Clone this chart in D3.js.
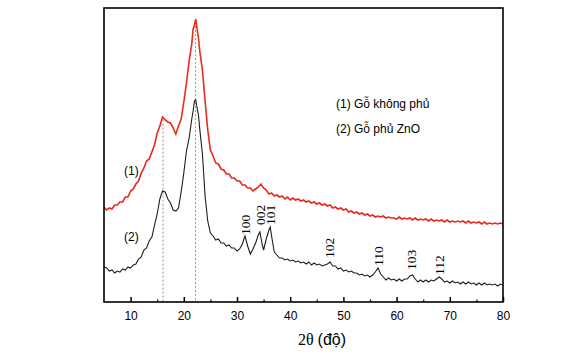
<!DOCTYPE html>
<html>
<head>
<meta charset="utf-8">
<title>XRD</title>
<style>
  body { margin: 0; background: #fff; }
  svg text { font-family: "Liberation Sans", Arial, sans-serif; }
</style>
</head>
<body>
<svg id="chart" width="585" height="354"></svg>
<script src="https://cdn.jsdelivr.net/npm/d3@7"></script>
<script>
// (1) uncoated wood: [2theta, intensity a.u.]
const uncoated = [
  [5.0,95],[5.5,92],[6.0,94],[6.5,93],[7.0,97],[7.5,97],[8.0,100],[8.5,100],[9.0,105],[9.5,105],
  [10.0,111],[10.5,113],[11.0,118],[11.5,121],[12.0,129],[12.5,134],[13.0,141],[13.5,143],[14.0,150],[14.5,157],
  [15.0,169],[15.5,176],[16.0,185],[16.5,182],[17.0,180],[17.5,179],[18.0,174],[18.5,168],[19.0,176],[19.5,183],
  [20.0,200],[20.5,219],[21.0,241],[21.5,258],[21.75,273],[22.0,277],[22.25,283],[22.5,273],[22.75,264],[23.0,251],
  [23.5,232],[24.0,201],[24.5,172],[25.0,152],[25.5,146],[26.0,139],[26.5,138],[27.0,133],[27.5,132],[28.0,128],
  [28.5,128],[29.0,124],[29.5,124],[30.0,121],[30.5,121],[31.0,117],[31.5,117],[32.0,114],[32.5,114],[33.0,111],
  [33.5,113],[34.0,115],[34.5,118],[35.0,114],[35.5,112],[36.0,108],[36.5,109],[37.0,106],[37.5,107],[38.0,105],
  [38.5,106],[39.0,103],[39.5,105],[40.0,102],[40.5,104],[41.0,102],[41.5,103],[42.0,101],[42.5,102],[43.0,100],
  [43.5,101],[44.0,99],[44.5,100],[45.0,98],[45.5,99],[46.0,97],[46.5,98],[47.0,96],[47.5,97],[48.0,94],
  [48.5,95],[49.0,93],[49.5,94],[50.0,92],[50.5,93],[51.0,90],[51.5,91],[52.0,89],[52.5,90],[53.0,88],
  [53.5,89],[54.0,87],[54.5,88],[55.0,86],[55.5,87],[56.0,85],[56.5,86],[57.0,85],[57.5,86],[58.0,84],
  [58.5,85],[59.0,84],[59.5,84],[60.0,83],[60.5,85],[61.0,83],[61.5,84],[62.0,83],[62.5,84],[63.0,82],
  [63.5,84],[64.0,82],[64.5,83],[65.0,82],[65.5,83],[66.0,81],[66.5,83],[67.0,81],[67.5,82],[68.0,81],
  [68.5,82],[69.0,80],[69.5,82],[70.0,80],[70.5,81],[71.0,80],[71.5,81],[72.0,80],[72.5,81],[73.0,79],
  [73.5,81],[74.0,79],[74.5,80],[75.0,79],[75.5,80],[76.0,78],[76.5,80],[77.0,78],[77.5,79],[78.0,78],
  [78.5,79],[79.0,78],[79.5,79],[80.0,78]
];

// (2) ZnO coated wood
const coated = [
  [5.0,35],[5.5,34],[6.0,31],[6.5,32],[7.0,29],[7.5,31],[8.0,30],[8.5,33],[9.0,32],[9.5,35],
  [10.0,34],[10.5,37],[11.0,38],[11.5,43],[12.0,45],[12.5,52],[13.0,54],[13.5,61],[14.0,65],[14.5,77],
  [15.0,88],[15.5,103],[16.0,111],[16.5,110],[17.0,103],[17.5,99],[18.0,92],[18.5,91],[19.0,94],[19.5,110],
  [20.0,129],[20.5,151],[21.0,164],[21.5,183],[21.75,191],[22.0,201],[22.25,202],[22.5,194],[22.75,187],[23.0,173],
  [23.5,148],[24.0,106],[24.5,81],[25.0,69],[25.5,66],[26.0,62],[26.5,63],[27.0,59],[27.5,59],[28.0,56],
  [28.5,57],[29.0,54],[29.5,54],[30.0,51],[30.5,53],[31.0,58],[31.5,66],[32.0,56],[32.5,48],[33.0,53],
  [33.5,59],[34.0,67],[34.3,70],[34.75,57],[35.0,52],[35.5,63],[36.0,72],[36.25,75],[36.5,66],[37.0,50],
  [37.5,47],[38.0,44],[38.5,44],[39.0,42],[39.5,43],[40.0,41],[40.5,42],[41.0,40],[41.5,41],[42.0,39],
  [42.5,40],[43.0,38],[43.5,40],[44.0,37],[44.5,39],[45.0,37],[45.5,38],[46.0,36],[46.5,37],[47.0,38],
  [47.5,40],[48.0,36],[48.5,36],[49.0,33],[49.5,34],[50.0,31],[50.5,32],[51.0,30],[51.5,31],[52.0,29],
  [52.5,29],[53.0,27],[53.5,28],[54.0,26],[54.5,27],[55.0,25],[55.5,27],[56.0,30],[56.5,34],[57.0,28],
  [57.5,25],[58.0,22],[58.5,24],[59.0,22],[59.5,23],[60.0,21],[60.5,23],[61.0,21],[61.5,23],[62.0,23],
  [62.5,26],[63.0,27],[63.5,23],[64.0,20],[64.5,22],[65.0,20],[65.5,22],[66.0,20],[66.5,22],[67.0,21],
  [67.5,23],[68.0,25],[68.5,23],[69.0,20],[69.5,21],[70.0,19],[70.5,21],[71.0,19],[71.5,20],[72.0,18],
  [72.5,20],[73.0,18],[73.5,20],[74.0,18],[74.5,19],[75.0,17],[75.5,19],[76.0,17],[76.5,19],[77.0,17],
  [77.5,18],[78.0,17],[78.5,18],[79.0,16],[79.5,18],[80.0,17]
];

// ZnO reflections: hkl, 2theta, intensity where the label starts
const hkl = ["100", "002", "101", "102", "110", "103", "112"];
const hklTheta = [31.5, 34.3, 36.2, 47.4, 56.5, 62.8, 68.0];
const hklLabelAt = [67, 77, 77, 44, 36, 32, 27];

// cellulose reference lines
const refTheta = [16.1, 22.2];

const xTicks = [10, 20, 30, 40, 50, 60, 70, 80];
const xMinorTicks = [15, 25, 35, 45, 55, 65, 75];
const legendLabels = ["(1) Gỗ không phủ", "(2) Gỗ phủ ZnO"];
const curveTags = ["(1)", "(2)"];

const margin = { left: 104, right: 82, top: 8, bottom: 52 };
const width = 585, height = 354;
const svg = d3.select("#chart");

const x = d3.scaleLinear().domain([5, 80]).range([margin.left, width - margin.right]);
const y = d3.scaleLinear().domain([0, 294]).range([height - margin.bottom, margin.top]);

svg.append("clipPath").attr("id", "plot")
  .append("rect")
  .attr("x", margin.left).attr("y", margin.top)
  .attr("width", x.range()[1] - x.range()[0])
  .attr("height", y.range()[0] - y.range()[1]);

// dashed guide lines, from the top of the uncoated curve down to the axis
const bis = d3.bisector((d) => d[0]).left;
function redAt(t) {
  const i = bis(uncoated, t);
  const a = uncoated[i - 1], b = uncoated[i];
  return a[1] + (b[1] - a[1]) * (t - a[0]) / (b[0] - a[0]);
}
svg.append("g")
  .selectAll("line")
  .data(refTheta)
  .join("line")
  .attr("x1", (d) => x(d)).attr("x2", (d) => x(d))
  .attr("y1", (d) => y(redAt(d)) + 2)
  .attr("y2", y(0))
  .attr("stroke", "#777")
  .attr("stroke-width", 0.8)
  .attr("stroke-dasharray", "2,2");

const line = d3.line().x((d) => x(d[0])).y((d) => y(d[1]));

const plot = svg.append("g").attr("clip-path", "url(#plot)");
plot.append("path")
  .datum(uncoated)
  .attr("fill", "none")
  .attr("stroke", "#e8291c")
  .attr("stroke-width", 1.6)
  .attr("d", line);
plot.append("path")
  .datum(coated)
  .attr("fill", "none")
  .attr("stroke", "#1c1c1c")
  .attr("stroke-width", 1.1)
  .attr("d", line);

// hkl labels, rotated, serif
svg.append("g")
  .selectAll("text")
  .data(hkl)
  .join("text")
  .attr("transform", (d, i) => `translate(${x(hklTheta[i])},${y(hklLabelAt[i])}) rotate(-90)`)
  .attr("dy", "0.35em")
  .style("font-family", "'Liberation Serif', 'Times New Roman', serif")
  .style("font-size", "13.5px")
  .text((d) => d);

// curve tags
svg.append("g")
  .selectAll("text")
  .data(curveTags)
  .join("text")
  .attr("x", 124)
  .attr("y", (d, i) => (i === 0 ? 175 : 241))
  .style("font-size", "12px")
  .text((d) => d);

// legend text
svg.append("g")
  .selectAll("text")
  .data(legendLabels)
  .join("text")
  .attr("x", 336)
  .attr("y", (d, i) => 108 + i * 24.5)
  .style("font-size", "12px")
  .text((d) => d);

// axis
const axis = svg.append("g")
  .attr("transform", `translate(0,${y(0)})`)
  .call(d3.axisBottom(x).tickValues(xTicks).tickSize(-5).tickPadding(9));
axis.select(".domain").remove();
axis.selectAll("line").attr("stroke-width", 1.5);
axis.selectAll("text").style("font-size", "12px").attr("fill", "#000");

const minor = svg.append("g")
  .attr("transform", `translate(0,${y(0)})`)
  .call(d3.axisBottom(x).tickValues(xMinorTicks).tickSize(-2.5).tickFormat(""));
minor.select(".domain").remove();
minor.selectAll("line").attr("stroke-width", 1.2);

// frame
svg.append("rect")
  .attr("x", margin.left).attr("y", margin.top)
  .attr("width", x.range()[1] - x.range()[0])
  .attr("height", y.range()[0] - y.range()[1])
  .attr("fill", "none")
  .attr("stroke", "#000")
  .attr("stroke-width", 1.6);

// axis title
const title = svg.append("text")
  .attr("x", 322).attr("y", 345)
  .attr("text-anchor", "middle")
  .style("font-size", "16px");
title.append("tspan")
  .style("font-family", "'Liberation Serif', 'Times New Roman', serif")
  .text("2θ ");
title.append("tspan").text("(độ)");
</script>
</body>
</html>
